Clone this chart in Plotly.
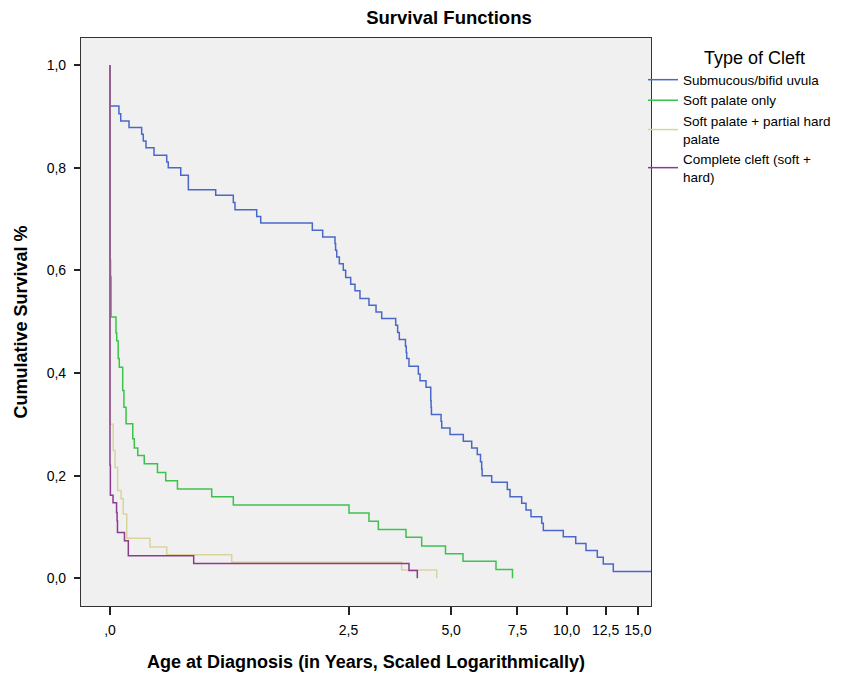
import numpy as np
import plotly.graph_objects as go

# ---- data (age in years, cumulative survival) ----
blue_age = [0, 0, 0.048, 0.058, 0.105, 0.181, 0.191, 0.208, 0.260, 0.347, 0.358, 0.450,
            0.509, 0.742, 0.911, 0.928, 1.161, 1.207, 1.894, 2.056, 2.260, 2.270, 2.290,
            2.335, 2.405, 2.448, 2.540, 2.621, 2.717, 2.897, 3.044, 3.166, 3.484, 3.530,
            3.570, 3.720, 3.740, 3.751, 3.808, 4.050, 4.095, 4.258, 4.390, 4.400, 4.410,
            4.690, 4.710, 4.964, 5.396, 5.684, 5.883, 6.000, 6.044, 6.060, 6.424, 7.058,
            7.173, 7.691, 7.890, 8.126, 8.654, 8.736, 9.813, 10.543, 11.182, 11.927,
            12.340, 13.061, 16.5]
blue_surv = [1.0, 0.920, 0.905, 0.891, 0.878, 0.865, 0.852, 0.839, 0.824, 0.811, 0.800, 0.785,
             0.757, 0.746, 0.732, 0.718, 0.705, 0.692, 0.678, 0.665, 0.652, 0.639, 0.626,
             0.613, 0.600, 0.586, 0.573, 0.560, 0.545, 0.532, 0.519, 0.506, 0.493, 0.479,
             0.465, 0.452, 0.440, 0.428, 0.413, 0.398, 0.385, 0.372, 0.346, 0.333, 0.319,
             0.306, 0.293, 0.280, 0.267, 0.254, 0.241, 0.227, 0.213, 0.200, 0.187, 0.173,
             0.159, 0.146, 0.133, 0.120, 0.107, 0.093, 0.081, 0.068, 0.054, 0.041,
             0.028, 0.013, 0.013]

green_age = [0, 0, 0.003, 0.006, 0.032, 0.036, 0.044, 0.050, 0.069, 0.076, 0.088, 0.127,
             0.136, 0.157, 0.197, 0.283, 0.340, 0.425, 0.706, 0.911, 2.509, 2.897, 3.093,
             3.733, 4.140, 4.825, 5.386, 6.594, 7.280]
green_surv = [1.0, 0.620, 0.587, 0.509, 0.478, 0.463, 0.428, 0.411, 0.366, 0.333, 0.301, 0.272,
              0.254, 0.239, 0.223, 0.206, 0.190, 0.174, 0.159, 0.143, 0.127, 0.111, 0.095,
              0.080, 0.063, 0.048, 0.033, 0.017, 0.0]

khaki_age = [0, 0, 0.017, 0.027, 0.041, 0.060, 0.072, 0.092, 0.234, 0.347, 0.895, 3.627, 4.562]
khaki_surv = [1.0, 0.300, 0.249, 0.216, 0.171, 0.155, 0.125, 0.078, 0.061, 0.046, 0.031, 0.016, 0.0]

purple_age = [0, 0, 0.002, 0.016, 0.035, 0.038, 0.040, 0.079, 0.101, 0.552, 3.808, 4.023]
purple_surv = [1.0, 0.220, 0.162, 0.147, 0.128, 0.112, 0.089, 0.073, 0.044, 0.029, 0.015, 0.0]

series_names = ["Submucous/bifid uvula", "Soft palate only",
                "Soft palate + partial hard<br>palate", "Complete cleft (soft +<br>hard)"]
series_colors = ["#4A68C9", "#3DC24C", "#D9D49E", "#8C3B8E"]

x_tick_values = [0, 2.5, 5, 7.5, 10, 12.5, 15]
x_tick_labels = [",0", "2,5", "5,0", "7,5", "10,0", "12,5", "15,0"]
y_tick_values = [0, 0.2, 0.4, 0.6, 0.8, 1.0]
y_tick_labels = ["0,0", "0,2", "0,4", "0,6", "0,8", "1,0"]


def logscale(a):
    return np.log1p(np.asarray(a, dtype=float))


fig = go.Figure()
for ages, surv, name, col in zip([blue_age, green_age, khaki_age, purple_age],
                                 [blue_surv, green_surv, khaki_surv, purple_surv],
                                 series_names, series_colors):
    fig.add_trace(go.Scatter(x=logscale(ages), y=surv, mode="lines", name=name,
                             line=dict(color=col, width=1.5, shape="hv"),
                             hoverinfo="skip"))

font_family = "Liberation Sans, Arial, sans-serif"
fig.update_layout(
    width=862, height=674,
    margin=dict(l=81, r=211, t=38, b=68, autoexpand=False),
    paper_bgcolor="white", plot_bgcolor="#F0F0F0",
    font=dict(family=font_family, size=14, color="black"),
    title=dict(text="<b>Survival Functions</b>", x=449 / 862, xanchor="center",
               y=1 - 18 / 674, yanchor="middle", font=dict(size=18.5, family=font_family)),
    showlegend=True,
    legend=dict(x=(643 - 81) / 570, xanchor="left", y=1 - 3 / 568, yanchor="top",
                bgcolor="rgba(0,0,0,0)", borderwidth=0,
                font=dict(size=13.5, family=font_family), tracegroupgap=0,
                itemwidth=30,
                title=dict(text="&nbsp;" * 6 + "Type of Cleft", side="top center",
                           font=dict(size=18, family=font_family))),
    xaxis=dict(range=[-0.1523, 2.8414], tickmode="array", automargin=False,
               tickvals=logscale(x_tick_values), ticktext=x_tick_labels,
               ticks="outside", ticklen=8, tickwidth=1.5, tickcolor="#222",
               ticklabelstandoff=3,
               showgrid=False, zeroline=False, showline=True, linecolor="#333",
               linewidth=1.2, mirror=True, tickfont=dict(size=14),
               title=dict(text="<b>Age at Diagnosis (in Years, Scaled Logarithmically)</b>",
                          font=dict(size=18), standoff=18)),
    yaxis=dict(range=[-0.054, 1.0526], tickmode="array", automargin=False,
               tickvals=y_tick_values, ticktext=y_tick_labels,
               ticks="outside", ticklen=6, tickwidth=1.5, tickcolor="#222",
               ticklabelstandoff=5,
               showgrid=False, zeroline=False, showline=True, linecolor="#333",
               linewidth=1.2, mirror=True, tickfont=dict(size=14),
               title=dict(text="<b>Cumulative Survival %</b>", font=dict(size=18),
                          standoff=14)),
)

fig.write_html("out.html", config={"displayModeBar": False},
               post_script="document.body.style.margin='0';")
